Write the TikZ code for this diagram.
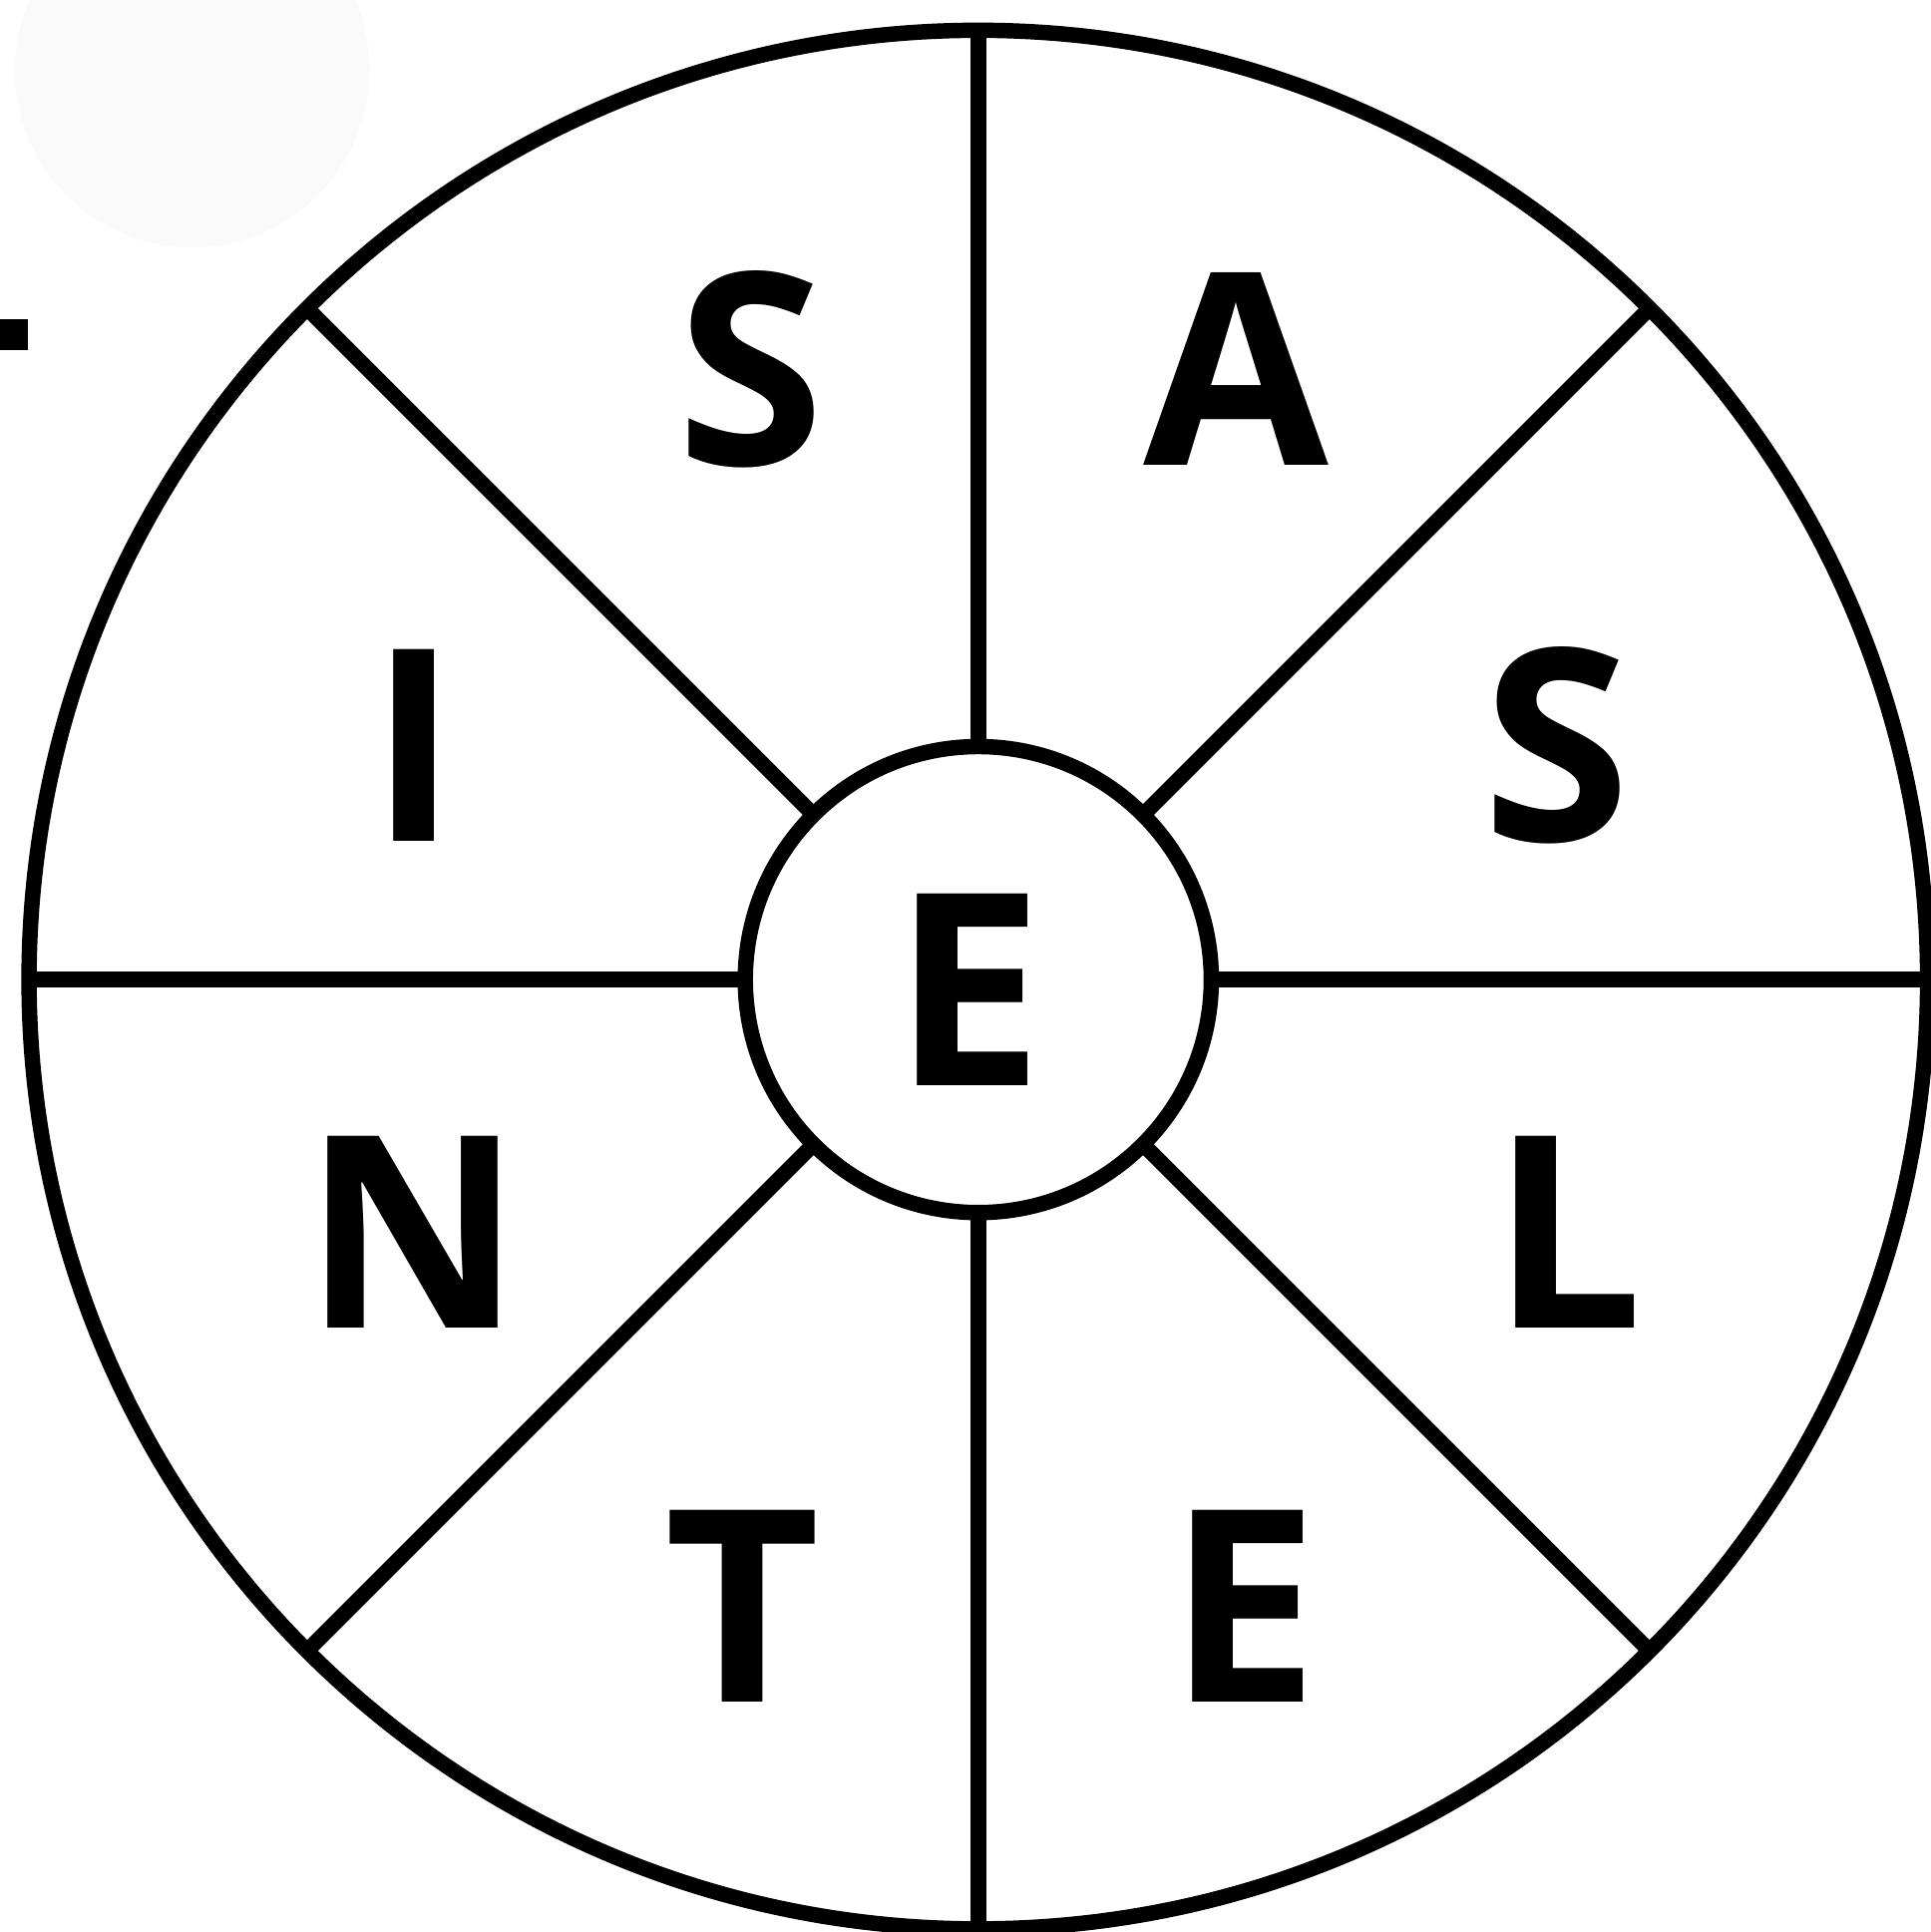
\documentclass[tikz,border=0pt]{standalone}
\usepackage{fontspec}
\setmainfont{Open Sans}
\usepackage{xcolor}
\usepackage{tikz}
\usetikzlibrary{positioning}
\definecolor{faintgrey}{RGB}{250,250,250}

\begin{document}
\begin{tikzpicture}[x=0.01cm,y=-0.01cm,line width=0.125cm,
  ring/.style={draw,circle,inner sep=0pt,outer sep=0pt,minimum size=#1},
  letter/.style={anchor=base,inner sep=0pt,font=\fontsize{62}{62}\selectfont\bfseries}
]
  \useasboundingbox (0,0) rectangle (1567,1568);
  \fill[faintgrey] (156,57) circle (144);
  \fill[black] (0,259) rectangle (23,284);

  \node[ring=15.4cm] (wheel) at (794,795) {};
  \node[ring=3.78cm] (hub) at (794,795) {};
  \foreach \a in {0,45,...,315} {
    \draw (hub.\a) -- (wheel.\a);
  }

  \node[letter] (hubE) at (786,881) {E};
  \foreach \x/\y/\l/\n in {609/378/S/s1,1003/378/A/a,1263/683/S/s2,336/683/I/i,
                          335/1078/N/n,1272/1078/L/l,603/1381/T/t,1009/1381/E/e} {
    \node[letter] (\n) at (\x,\y) {\l};
  }
\end{tikzpicture}
\end{document}
